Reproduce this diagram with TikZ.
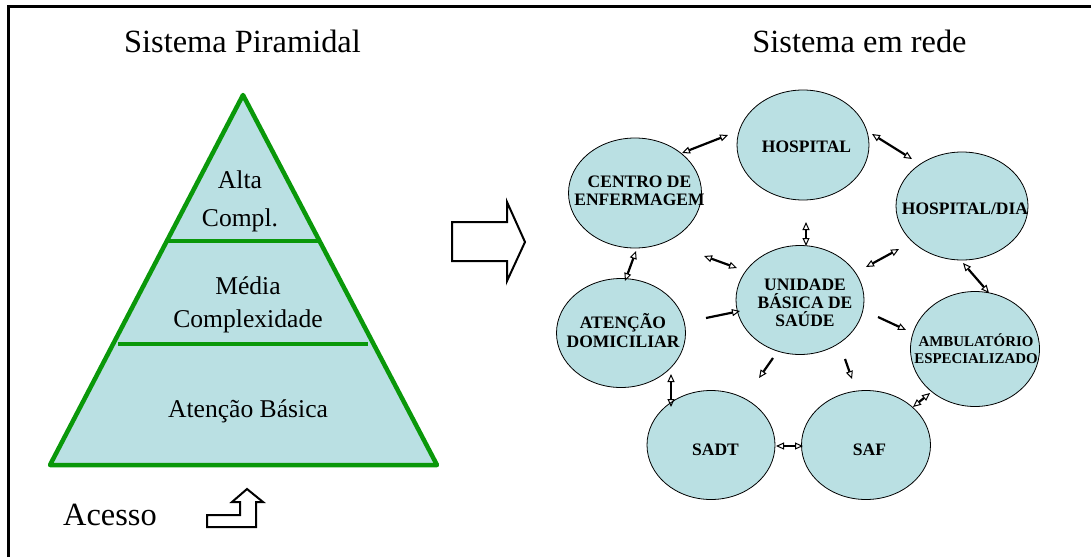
\documentclass[tikz,border=0pt]{standalone}
\usepackage{fontspec}
\setmainfont{Liberation Serif}
\usetikzlibrary{shapes.geometric,arrows.meta}
\definecolor{cellblue}{RGB}{186,224,227}
\definecolor{pyrgreen}{RGB}{10,152,10}
\tikzset{
  title/.style={font=\fontsize{32.4}{34}\selectfont, anchor=base, inner sep=0pt},
  pyrtext/.style={font=\fontsize{25.6}{33}\selectfont, align=center, inner sep=0pt},
  cell/.style={ellipse, draw=black, line width=0.8pt, fill=cellblue, inner sep=0pt},
  celltext/.style={font=\bfseries\fontsize{17.5}{18}\selectfont, align=center, inner sep=0pt},
  smalltext/.style={font=\bfseries\fontsize{14.9}{17}\selectfont, align=center, inner sep=0pt},
  tip/.style={Triangle[open,length=8pt,width=7pt,line width=1pt]},
  link/.style={line width=2.2pt, {Triangle[open,length=8pt,width=7pt,line width=1pt]}-{Triangle[open,length=8pt,width=7pt,line width=1pt]}},
  flow/.style={line width=2.2pt, -{Triangle[open,length=8pt,width=7pt,line width=1pt]}},
  hollow/.style={draw=black, line width=2pt, fill=white, line join=miter}
}
\begin{document}
\begin{tikzpicture}[x=1pt,y=-1pt]
\useasboundingbox (0,0) rectangle (1091,557);

% frame
\draw[line width=2.2pt] (8.5,557) -- (8.5,6.5) -- (1092,6.5);

% titles
\node[title] (tpyr) at (242.5,52) {Sistema Piramidal};
\node[title] (tnet) at (859.5,52) {Sistema em rede};

% pyramid
\filldraw[fill=cellblue, draw=pyrgreen, line width=4.5pt, line join=round]
  (243,95) -- (437,465) -- (50,465) -- cycle;
\draw[pyrgreen, line width=4pt] (167,241) -- (319,241);
\draw[pyrgreen, line width=4pt] (118,344) -- (368,344);
\node[pyrtext, font=\fontsize{25.6}{38}\selectfont] (alta) at (240,201) {Alta\\Compl.};
\node[pyrtext] (media) at (248,304.5) {Média\\Complexidade};
\node[pyrtext, anchor=base] (basica) at (248,417) {Atenção Básica};

% transition arrow
\draw[hollow] (452,222) -- (507,222) -- (507,202) -- (525,242) -- (507,281)
  -- (507,261) -- (452,261) -- cycle;

% access
\node[title, anchor=base west] (acesso) at (63,525.7) {Acesso};
\draw[hollow] (207,527) -- (256,527) -- (256,502) -- (263,502) -- (247,489)
  -- (232,502) -- (240,502) -- (240,515) -- (207,515) -- cycle;

% network cells
\node[cell, minimum width=132pt, minimum height=110pt] (hosp) at (803,145) {};
\node[cell, minimum width=133pt, minimum height=110pt] (centro) at (635,193) {};
\node[cell, minimum width=132pt, minimum height=108pt] (hdia) at (962,206) {};
\node[cell, minimum width=128pt, minimum height=109pt] (ubs) at (800,300) {};
\node[cell, minimum width=129pt, minimum height=109pt] (domic) at (621,333) {};
\node[cell, minimum width=129pt, minimum height=115pt] (amb) at (975,349) {};
\node[cell, minimum width=128pt, minimum height=109pt] (sadt) at (711,445) {};
\node[cell, minimum width=129pt, minimum height=109pt] (saf) at (866,445) {};

\node[celltext, anchor=base] (thosp) at (806.5,152) {HOSPITAL};
\node[celltext] (tcentro) at (639.5,190.4) {CENTRO DE\\ENFERMAGEM};
\node[celltext, anchor=base] (thdia) at (965,214) {HOSPITAL/DIA};
\node[celltext] (tubs) at (805,302.4) {UNIDADE\\BÁSICA DE\\SAÚDE};
\node[celltext, font=\bfseries\fontsize{17.5}{19}\selectfont] (tdomic) at (623,331) {ATENÇÃO\\DOMICILIAR};
\node[smalltext] (tamb) at (976,348.5) {AMBULATÓRIO\\ESPECIALIZADO};
\node[celltext, anchor=base] (tsadt) at (715.5,455) {SADT};
\node[celltext, anchor=base] (tsaf) at (869.5,455) {SAF};

% connector end points
\coordinate (a1) at (682,153);  \coordinate (b1) at (728,135);
\coordinate (a2) at (872,134);  \coordinate (b2) at (912,159);
\coordinate (a3) at (806,222);  \coordinate (b3) at (806,246);
\coordinate (a4) at (636,251);  \coordinate (b4) at (625,281);
\coordinate (a5) at (704,256);  \coordinate (b5) at (737,268);
\coordinate (a6) at (866,267);  \coordinate (b6) at (899,249);
\coordinate (a7) at (963,263);  \coordinate (b7) at (989,293);
\coordinate (a8) at (706,318);  \coordinate (b8) at (740,311);
\coordinate (a9) at (878,317);  \coordinate (b9) at (906,330);
\coordinate (a10) at (773,358); \coordinate (b10) at (759,378);
\coordinate (a11) at (845,359); \coordinate (b11) at (852,379);
\coordinate (a12) at (671,374); \coordinate (b12) at (671,407);
\coordinate (a13) at (776,446); \coordinate (b13) at (803,446);
\coordinate (a14) at (913,407); \coordinate (b14) at (930,393);

% two-way links
\draw[link] (a1) -- (b1);
\draw[link] (a2) -- (b2);
\draw[link] (a3) -- (b3);
\draw[link] (a4) -- (b4);
\draw[link] (a5) -- (b5);
\draw[link] (a6) -- (b6);
\draw[link] (a7) -- (b7);
\draw[link] (a12) -- (b12);
\draw[link] (a13) -- (b13);
\draw[link] (a14) -- (b14);

% one-way flows
\draw[flow] (a8) -- (b8);
\draw[flow] (a9) -- (b9);
\draw[flow] (a10) -- (b10);
\draw[flow] (a11) -- (b11);
\end{tikzpicture}
\end{document}
